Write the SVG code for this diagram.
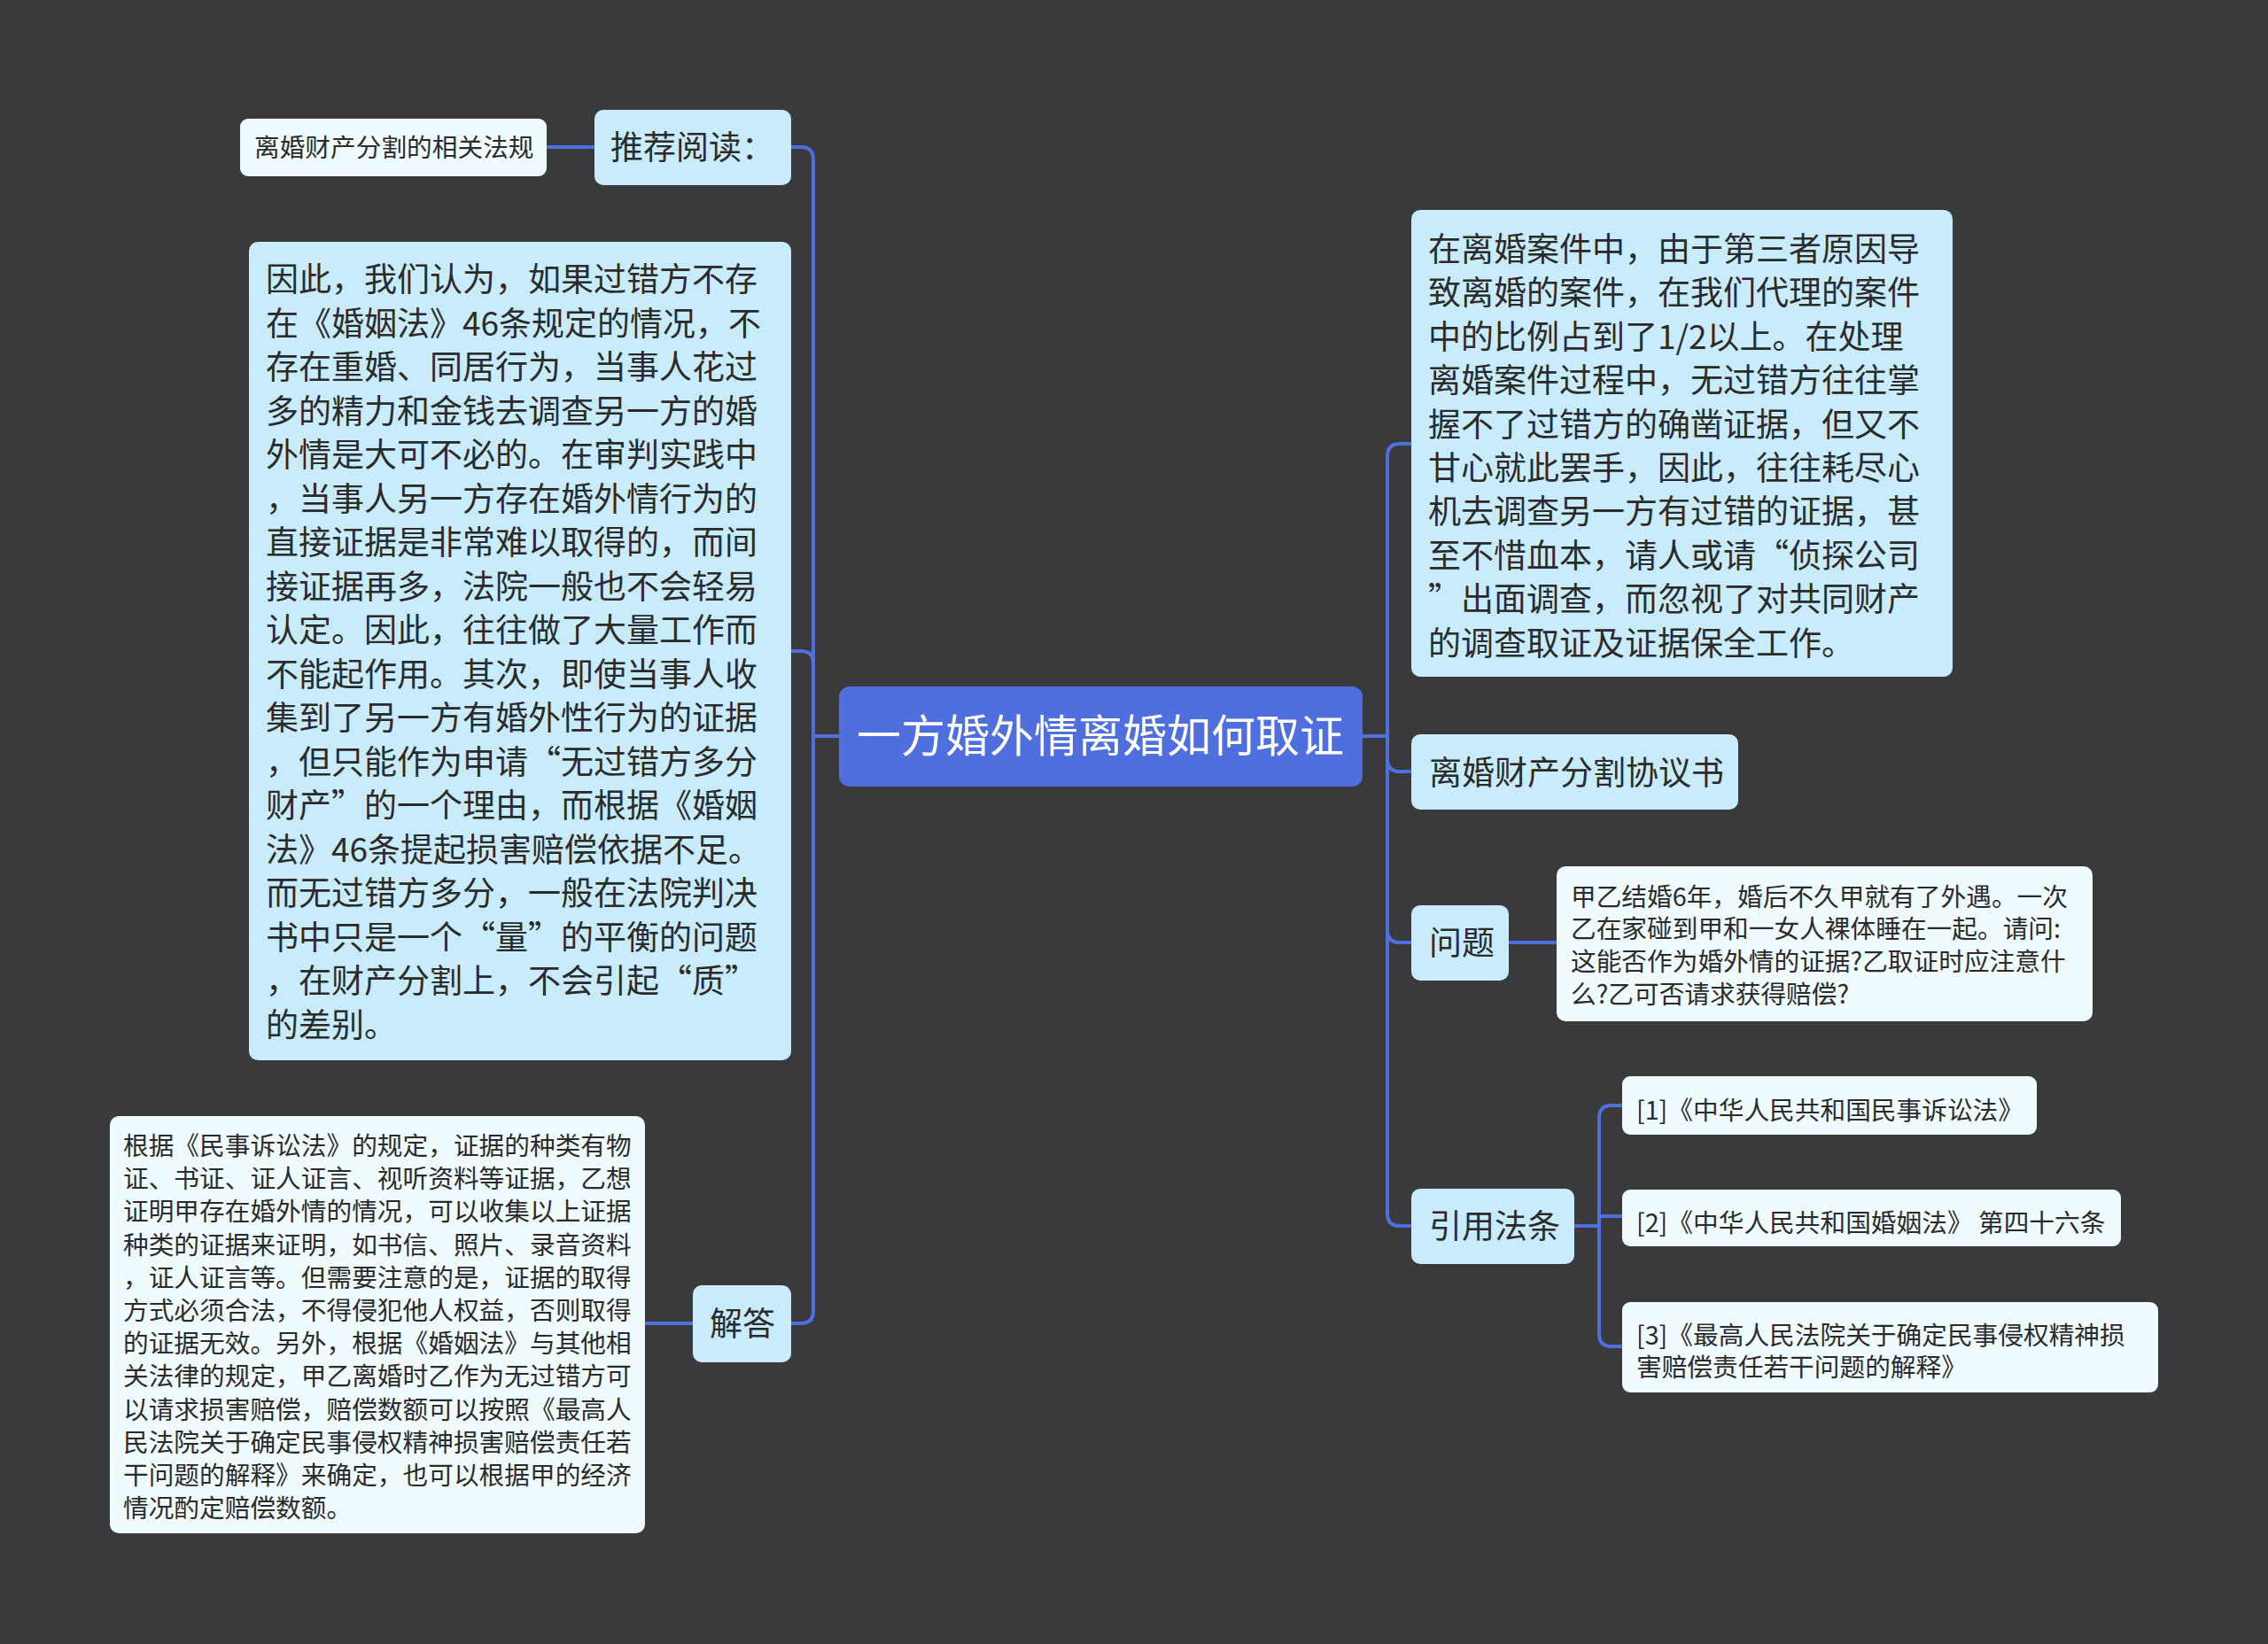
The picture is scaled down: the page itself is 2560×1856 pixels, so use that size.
<svg xmlns="http://www.w3.org/2000/svg" width="2560" height="1856" viewBox="0 0 2560 1856">
<style>
text{font-family:"Noto Sans CJK SC","Microsoft YaHei",sans-serif;fill:#2b2b2b}
.root{fill:#4f6fdf}
.l1{fill:#c9ecfd}
.l2{fill:#effbff}
.big{font-size:37px}
.sm{font-size:28.7px}
.rt{font-size:50px;fill:#ffffff}
.conn path{fill:none;stroke:#4f6fdf;stroke-width:4;stroke-linecap:round;stroke-linejoin:round}
</style>
<rect width="2560" height="1856" fill="#3a393b"/>
<g class="conn" id="connectors">
<path d="M947,831 H918 V180 Q918,166 904,166 H893"/>
<path d="M947,831 H918 V749 Q918,735 904,735 H893"/>
<path d="M947,831 H918 V1480 Q918,1494 904,1494 H893"/>
<path d="M671,166 H617"/>
<path d="M782,1494 H728"/>
<path d="M1538,831 H1566 V515 Q1566,501 1580,501 H1593"/>
<path d="M1538,831 H1566 V857 Q1566,871 1580,871 H1593"/>
<path d="M1538,831 H1566 V1050 Q1566,1064 1580,1064 H1593"/>
<path d="M1538,831 H1566 V1370 Q1566,1384 1580,1384 H1593"/>
<path d="M1703,1064 H1757"/>
<path d="M1777,1384 H1805 V1262 Q1805,1248 1819,1248 H1831"/>
<path d="M1777,1384 H1805 V1373 H1831"/>
<path d="M1777,1384 H1805 V1506 Q1805,1520 1819,1520 H1831"/>
</g>
<g id="root">
<rect class="root" x="947" y="775" width="591" height="113" rx="12"/>
<text class="rt" x="1242" y="849" text-anchor="middle">一方婚外情离婚如何取证</text>
</g>
<g id="n-tuijian">
<rect class="l1" x="671" y="124" width="222" height="85" rx="10"/>
<text class="big" x="689" y="180">推荐阅读：</text>
</g>
<g id="n-fagui">
<rect class="l2" x="271" y="134" width="346" height="65" rx="9"/>
<text class="sm" x="287" y="177">离婚财产分割的相关法规</text>
</g>
<g id="n-left-text">
<rect class="l1" x="281" y="273" width="612" height="924" rx="10"/>
<text class="big">
<tspan x="300" y="329">因此，我们认为，如果过错方不存</tspan>
<tspan x="300" y="378.5">在《婚姻法》46条规定的情况，不</tspan>
<tspan x="300" y="428">存在重婚、同居行为，当事人花过</tspan>
<tspan x="300" y="477.5">多的精力和金钱去调查另一方的婚</tspan>
<tspan x="300" y="527">外情是大可不必的。在审判实践中</tspan>
<tspan x="300" y="576.5">，当事人另一方存在婚外情行为的</tspan>
<tspan x="300" y="626">直接证据是非常难以取得的，而间</tspan>
<tspan x="300" y="675.5">接证据再多，法院一般也不会轻易</tspan>
<tspan x="300" y="725">认定。因此，往往做了大量工作而</tspan>
<tspan x="300" y="774.5">不能起作用。其次，即使当事人收</tspan>
<tspan x="300" y="824">集到了另一方有婚外性行为的证据</tspan>
<tspan x="300" y="873.5">，但只能作为申请“无过错方多分</tspan>
<tspan x="300" y="923">财产”的一个理由，而根据《婚姻</tspan>
<tspan x="300" y="972.5">法》46条提起损害赔偿依据不足。</tspan>
<tspan x="300" y="1022">而无过错方多分，一般在法院判决</tspan>
<tspan x="300" y="1071.5">书中只是一个“量”的平衡的问题</tspan>
<tspan x="300" y="1121">，在财产分割上，不会引起“质”</tspan>
<tspan x="300" y="1170.5">的差别。</tspan>
</text>
</g>
<g id="n-jieda">
<rect class="l1" x="782" y="1451" width="111" height="87" rx="10"/>
<text class="big" x="801" y="1508">解答</text>
</g>
<g id="n-answer">
<rect class="l2" x="124" y="1260" width="604" height="471" rx="10"/>
<text class="sm">
<tspan x="139" y="1304">根据《民事诉讼法》的规定，证据的种类有物</tspan>
<tspan x="139" y="1341.2">证、书证、证人证言、视听资料等证据，乙想</tspan>
<tspan x="139" y="1378.4">证明甲存在婚外情的情况，可以收集以上证据</tspan>
<tspan x="139" y="1415.6">种类的证据来证明，如书信、照片、录音资料</tspan>
<tspan x="139" y="1452.8">，证人证言等。但需要注意的是，证据的取得</tspan>
<tspan x="139" y="1490">方式必须合法，不得侵犯他人权益，否则取得</tspan>
<tspan x="139" y="1527.2">的证据无效。另外，根据《婚姻法》与其他相</tspan>
<tspan x="139" y="1564.4">关法律的规定，甲乙离婚时乙作为无过错方可</tspan>
<tspan x="139" y="1601.6">以请求损害赔偿，赔偿数额可以按照《最高人</tspan>
<tspan x="139" y="1638.8">民法院关于确定民事侵权精神损害赔偿责任若</tspan>
<tspan x="139" y="1676">干问题的解释》来确定，也可以根据甲的经济</tspan>
<tspan x="139" y="1713.2">情况酌定赔偿数额。</tspan>
</text>
</g>
<g id="n-right-text">
<rect class="l1" x="1593" y="237" width="611" height="527" rx="10"/>
<text class="big">
<tspan x="1612" y="295">在离婚案件中，由于第三者原因导</tspan>
<tspan x="1612" y="344.4">致离婚的案件，在我们代理的案件</tspan>
<tspan x="1612" y="393.8">中的比例占到了1/2以上。在处理</tspan>
<tspan x="1612" y="443.2">离婚案件过程中，无过错方往往掌</tspan>
<tspan x="1612" y="492.6">握不了过错方的确凿证据，但又不</tspan>
<tspan x="1612" y="542">甘心就此罢手，因此，往往耗尽心</tspan>
<tspan x="1612" y="591.4">机去调查另一方有过错的证据，甚</tspan>
<tspan x="1612" y="640.8">至不惜血本，请人或请“侦探公司</tspan>
<tspan x="1612" y="690.2">”出面调查，而忽视了对共同财产</tspan>
<tspan x="1612" y="739.6">的调查取证及证据保全工作。</tspan>
</text>
</g>
<g id="n-xieyi">
<rect class="l1" x="1593" y="829" width="369" height="85" rx="10"/>
<text class="big" x="1613" y="886">离婚财产分割协议书</text>
</g>
<g id="n-wenti">
<rect class="l1" x="1593" y="1022" width="110" height="85" rx="10"/>
<text class="big" x="1613" y="1078">问题</text>
</g>
<g id="n-question">
<rect class="l2" x="1757" y="978" width="605" height="175" rx="10"/>
<text class="sm">
<tspan x="1773" y="1022.7">甲乙结婚6年，婚后不久甲就有了外遇。一次</tspan>
<tspan x="1773" y="1059.4">乙在家碰到甲和一女人裸体睡在一起。请问:</tspan>
<tspan x="1773" y="1096.1">这能否作为婚外情的证据?乙取证时应注意什</tspan>
<tspan x="1773" y="1132.8">么?乙可否请求获得赔偿?</tspan>
</text>
</g>
<g id="n-fatiao">
<rect class="l1" x="1593" y="1342" width="184" height="85" rx="10"/>
<text class="big" x="1613" y="1398">引用法条</text>
</g>
<g id="n-law1">
<rect class="l2" x="1831" y="1215" width="468" height="66" rx="9"/>
<text class="sm" x="1847" y="1264">[1]《中华人民共和国民事诉讼法》</text>
</g>
<g id="n-law2">
<rect class="l2" x="1831" y="1343" width="563" height="64" rx="9"/>
<text class="sm" x="1847" y="1391">[2]《中华人民共和国婚姻法》 第四十六条</text>
</g>
<g id="n-law3">
<rect class="l2" x="1831" y="1470" width="605" height="102" rx="9"/>
<text class="sm">
<tspan x="1847" y="1518">[3]《最高人民法院关于确定民事侵权精神损</tspan>
<tspan x="1847" y="1554">害赔偿责任若干问题的解释》</tspan>
</text>
</g>
</svg>
